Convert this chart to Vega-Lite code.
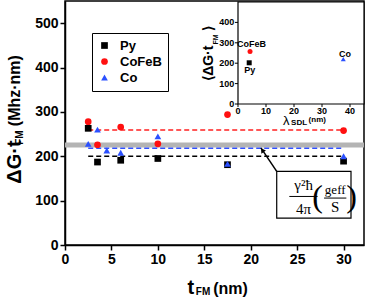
{
  "$schema": "https://vega.github.io/schema/vega-lite/v6.json",
  "width": 299,
  "height": 244,
  "autosize": {"type": "none"},
  "padding": {"left": 65, "top": 1, "right": 2, "bottom": 56},
  "config": {
    "view": {"stroke": "black", "strokeWidth": 1.5},
    "font": "Liberation Sans",
    "axis": {"zindex": 1, "labelFont": "Liberation Sans", "titleFont": "Liberation Sans", "labelFontWeight": "bold", "titleFontWeight": "bold", "domainColor": "black", "tickColor": "black", "labelColor": "black", "titleColor": "black", "grid": false}
  },
  "layer": [
    {
      "layer": [
        {
          "data": {"values": [{"x": 0, "x2": 32.2, "y": 220, "y2": 231}]},
          "mark": {"type": "rect", "fill": "#b4b4b4"},
          "encoding": {
            "x": {"field": "x", "type": "quantitative", "scale": {"domain": [0, 32.2], "nice": false},
              "axis": {"title": null, "values": [0, 2.5, 5, 7.5, 10, 12.5, 15, 17.5, 20, 22.5, 25, 27.5, 30], "labelExpr": "datum.value % 5 === 0 ? datum.label : ''", "labelFontSize": 14, "tickSize": 5, "tickWidth": 1.5, "domainWidth": 1.5, "labelPadding": 2, "labelFlush": false}},
            "x2": {"field": "x2"},
            "y": {"field": "y", "type": "quantitative", "scale": {"domain": [0, 550], "nice": false},
              "axis": {"title": null, "values": [0, 50, 100, 150, 200, 250, 300, 350, 400, 450, 500], "labelExpr": "datum.value % 100 === 0 ? datum.label : ''", "labelFontSize": 14, "tickSize": 5, "tickWidth": 1.5, "domainWidth": 1.5, "labelPadding": 2, "labelFlush": false}},
            "y2": {"field": "y2"}
          }
        },
        {
          "data": {"values": [{"x": 2.5, "x2": 30, "y": 200}]},
          "mark": {"type": "rule", "color": "black", "strokeDash": [5, 3], "strokeWidth": 1.5},
          "encoding": {"x": {"field": "x", "type": "quantitative"}, "x2": {"field": "x2"}, "y": {"field": "y", "type": "quantitative"}}
        },
        {
          "data": {"values": [{"x": 2.5, "x2": 30, "y": 259}]},
          "mark": {"type": "rule", "color": "#ff2020", "strokeDash": [5, 3], "strokeWidth": 1.5},
          "encoding": {"x": {"field": "x", "type": "quantitative"}, "x2": {"field": "x2"}, "y": {"field": "y", "type": "quantitative"}}
        },
        {
          "data": {"values": [{"x": 2.5, "x2": 30, "y": 218}]},
          "mark": {"type": "rule", "color": "#3050ff", "strokeDash": [5, 3], "strokeWidth": 1.5},
          "encoding": {"x": {"field": "x", "type": "quantitative"}, "x2": {"field": "x2"}, "y": {"field": "y", "type": "quantitative"}}
        },
        {
          "data": {"values": [
            {"series": "Py", "x": 2.5, "y": 263},
            {"series": "Py", "x": 3.5, "y": 187},
            {"series": "Py", "x": 6, "y": 191},
            {"series": "Py", "x": 10, "y": 195},
            {"series": "Py", "x": 17.5, "y": 181},
            {"series": "Py", "x": 30, "y": 189},
            {"series": "CoFeB", "x": 2.5, "y": 278},
            {"series": "CoFeB", "x": 3.5, "y": 226},
            {"series": "CoFeB", "x": 6, "y": 266},
            {"series": "CoFeB", "x": 10, "y": 228},
            {"series": "CoFeB", "x": 17.5, "y": 294},
            {"series": "CoFeB", "x": 30, "y": 258},
            {"series": "Co", "x": 2.5, "y": 228},
            {"series": "Co", "x": 3.5, "y": 260},
            {"series": "Co", "x": 4.5, "y": 213},
            {"series": "Co", "x": 6, "y": 208},
            {"series": "Co", "x": 10, "y": 245},
            {"series": "Co", "x": 17.5, "y": 183},
            {"series": "Co", "x": 30, "y": 200}
          ]},
          "mark": {"type": "point", "filled": true, "size": 45, "opacity": 1},
          "encoding": {
            "x": {"field": "x", "type": "quantitative"},
            "y": {"field": "y", "type": "quantitative"},
            "color": {"field": "series", "type": "nominal", "scale": {"domain": ["Py", "CoFeB", "Co"], "range": ["black", "#ff1010", "#2b50ff"]},
              "legend": {"title": null, "orient": "none", "legendX": 27, "legendY": 32, "strokeColor": "black", "fillColor": "white", "padding": 6, "labelFont": "Liberation Sans", "labelFontSize": 13, "labelFontWeight": "bold", "labelColor": "black", "symbolSize": 45, "rowPadding": 2, "labelOffset": 9}},
            "shape": {"field": "series", "type": "nominal", "scale": {"domain": ["Py", "CoFeB", "Co"], "range": ["square", "circle", "triangle-up"]},
              "legend": {"title": null, "orient": "none", "legendX": 27, "legendY": 32, "strokeColor": "black", "fillColor": "white", "padding": 6, "labelFont": "Liberation Sans", "labelFontSize": 13, "labelFontWeight": "bold", "labelColor": "black", "symbolSize": 45, "rowPadding": 2, "labelOffset": 9}}
          }
        },
        {
          "data": {"values": [{"x": 22.8, "x2": 30.8, "y": 60.5, "y2": 166}]},
          "mark": {"type": "rect", "fill": "white", "stroke": "black", "strokeWidth": 1.2},
          "encoding": {"x": {"field": "x", "type": "quantitative"}, "x2": {"field": "x2"}, "y": {"field": "y", "type": "quantitative"}, "y2": {"field": "y2"}}
        },
        {
          "data": {"values": [{"x": 22.8, "y": 166, "x2": 21.1, "y2": 219}]},
          "mark": {"type": "rule", "color": "black", "strokeWidth": 1.5},
          "encoding": {"x": {"field": "x", "type": "quantitative"}, "x2": {"field": "x2"}, "y": {"field": "y", "type": "quantitative"}, "y2": {"field": "y2"}}
        },
        {
          "data": {"values": [{"x": 21.25, "y": 213.8}]},
          "mark": {"type": "point", "shape": "triangle-up", "filled": true, "color": "black", "size": 30, "angle": 325.6, "opacity": 1},
          "encoding": {"x": {"field": "x", "type": "quantitative"}, "y": {"field": "y", "type": "quantitative"}}
        },
        {
          "data": {"values": [{"x": 24.16, "x2": 27.2, "y": 109.4}, {"x": 27.9, "x2": 30.3, "y": 105.8}]},
          "mark": {"type": "rule", "color": "black", "strokeWidth": 1},
          "encoding": {"x": {"field": "x", "type": "quantitative"}, "x2": {"field": "x2"}, "y": {"field": "y", "type": "quantitative"}}
        },
        {
          "data": {"values": [{"x": 25.7, "y": 136, "t": "γ²ħ"}, {"x": 25.7, "y": 82, "t": "4π"}, {"x": 29.1, "y": 85, "t": "S"}]},
          "mark": {"type": "text", "font": "Liberation Serif", "fontSize": 15, "color": "black", "baseline": "middle", "align": "center"},
          "encoding": {"x": {"field": "x", "type": "quantitative"}, "y": {"field": "y", "type": "quantitative"}, "text": {"field": "t"}}
        },
        {
          "data": {"values": [{"x": 29.1, "y": 124, "t": "geff"}]},
          "mark": {"type": "text", "font": "Liberation Serif", "fontSize": 13, "color": "black", "baseline": "middle", "align": "center"},
          "encoding": {"x": {"field": "x", "type": "quantitative"}, "y": {"field": "y", "type": "quantitative"}, "text": {"field": "t"}}
        },
        {
          "data": {"values": [{"x": 27.2, "y": 108, "t": "("}, {"x": 30.85, "y": 108, "t": ")"}]},
          "mark": {"type": "text", "font": "Liberation Serif", "fontSize": 32, "color": "black", "baseline": "middle", "align": "center"},
          "encoding": {"x": {"field": "x", "type": "quantitative"}, "y": {"field": "y", "type": "quantitative"}, "text": {"field": "t"}}
        },
        {
          "data": {"values": [{"x": 13.56, "y": -97, "t": "t"}]},
          "mark": {"type": "text", "font": "Liberation Sans", "fontWeight": "bold", "fontSize": 20, "color": "black", "baseline": "middle", "align": "center"},
          "encoding": {"x": {"field": "x", "type": "quantitative"}, "y": {"field": "y", "type": "quantitative"}, "text": {"field": "t"}}
        },
        {
          "data": {"values": [{"x": 14.86, "y": -106, "t": "FM"}]},
          "mark": {"type": "text", "font": "Liberation Sans", "fontWeight": "bold", "fontSize": 10, "color": "black", "baseline": "middle", "align": "center"},
          "encoding": {"x": {"field": "x", "type": "quantitative"}, "y": {"field": "y", "type": "quantitative"}, "text": {"field": "t"}}
        },
        {
          "data": {"values": [{"x": 17.82, "y": -99, "t": "(nm)"}]},
          "mark": {"type": "text", "font": "Liberation Sans", "fontWeight": "bold", "fontSize": 16, "color": "black", "baseline": "middle", "align": "center"},
          "encoding": {"x": {"field": "x", "type": "quantitative"}, "y": {"field": "y", "type": "quantitative"}, "text": {"field": "t"}}
        },
        {
          "data": {"values": [{"x": -5.43, "y": 187, "t": "ΔG·t"}]},
          "mark": {"type": "text", "font": "Liberation Sans", "fontWeight": "bold", "fontSize": 20, "color": "black", "baseline": "middle", "align": "center", "angle": 270},
          "encoding": {"x": {"field": "x", "type": "quantitative"}, "y": {"field": "y", "type": "quantitative"}, "text": {"field": "t"}}
        },
        {
          "data": {"values": [{"x": -4.83, "y": 242, "t": "FM"}]},
          "mark": {"type": "text", "font": "Liberation Sans", "fontWeight": "bold", "fontSize": 10, "color": "black", "baseline": "middle", "align": "center", "angle": 270},
          "encoding": {"x": {"field": "x", "type": "quantitative"}, "y": {"field": "y", "type": "quantitative"}, "text": {"field": "t"}}
        },
        {
          "data": {"values": [{"x": -5.43, "y": 348, "t": "(Mhz·nm)"}]},
          "mark": {"type": "text", "font": "Liberation Sans", "fontWeight": "bold", "fontSize": 16, "color": "black", "baseline": "middle", "align": "center", "angle": 270},
          "encoding": {"x": {"field": "x", "type": "quantitative"}, "y": {"field": "y", "type": "quantitative"}, "text": {"field": "t"}}
        }
      ]
    },
    {
      "layer": [
        {
          "data": {"values": [{"lam": 0, "lam2": 45, "g": 0, "g2": 500}]},
          "mark": {"type": "rect", "fill": "white", "stroke": "black", "strokeWidth": 1.2},
          "encoding": {
            "x": {"field": "lam", "type": "quantitative", "scale": {"domain": [-12, 45], "range": [139.4, 299], "nice": false, "zero": false}, "axis": null},
            "x2": {"field": "lam2"},
            "y": {"field": "g", "type": "quantitative", "scale": {"domain": [-100, 500], "range": [123.4, 1], "nice": false, "zero": false}, "axis": null},
            "y2": {"field": "g2"}
          }
        },
        {
          "data": {"values": [{"tick": 0}, {"tick": 10}, {"tick": 20}, {"tick": 30}, {"tick": 40}]},
          "layer": [
            {
              "mark": {"type": "rule", "color": "black", "strokeWidth": 1},
              "encoding": {"x": {"field": "tick", "type": "quantitative", "axis": null}, "y": {"datum": -15, "axis": null}, "y2": {"datum": 0}}
            },
            {
              "mark": {"type": "text", "font": "Liberation Sans", "fontWeight": "bold", "fontSize": 9, "color": "black", "baseline": "middle", "align": "center"},
              "encoding": {"x": {"field": "tick", "type": "quantitative", "axis": null}, "y": {"datum": -33, "axis": null}, "text": {"field": "tick", "type": "quantitative"}}
            }
          ]
        },
        {
          "data": {"values": [{"tick": 0}, {"tick": 100}, {"tick": 200}, {"tick": 300}, {"tick": 400}]},
          "layer": [
            {
              "mark": {"type": "rule", "color": "black", "strokeWidth": 1},
              "encoding": {"y": {"field": "tick", "type": "quantitative", "axis": null}, "x": {"datum": -1.1, "axis": null}, "x2": {"datum": 0}}
            },
            {
              "mark": {"type": "text", "font": "Liberation Sans", "fontWeight": "bold", "fontSize": 9, "color": "black", "baseline": "middle", "align": "right"},
              "encoding": {"y": {"field": "tick", "type": "quantitative", "axis": null}, "x": {"datum": -1.3, "axis": null}, "text": {"field": "tick", "type": "quantitative"}}
            }
          ]
        },
        {
          "data": {"values": [
            {"series": "Py", "lam": 4.0, "g": 202},
            {"series": "CoFeB", "lam": 4.3, "g": 257},
            {"series": "Co", "lam": 37.6, "g": 220}
          ]},
          "mark": {"type": "point", "filled": true, "size": 25, "opacity": 1},
          "encoding": {
            "x": {"field": "lam", "type": "quantitative", "axis": null},
            "y": {"field": "g", "type": "quantitative", "axis": null},
            "color": {"field": "series", "type": "nominal"},
            "shape": {"field": "series", "type": "nominal"}
          }
        },
        {
          "data": {"values": [
            {"lam": 4.2, "g": 167, "t": "Py"},
            {"lam": 4.8, "g": 294, "t": "CoFeB"},
            {"lam": 38.2, "g": 246, "t": "Co"}
          ]},
          "mark": {"type": "text", "font": "Liberation Sans", "fontWeight": "bold", "fontSize": 9, "color": "black", "baseline": "middle", "align": "center"},
          "encoding": {"x": {"field": "lam", "type": "quantitative", "axis": null}, "y": {"field": "g", "type": "quantitative", "axis": null}, "text": {"field": "t"}}
        },
        {
          "data": {"values": [{"lam": 17.2, "g": -83, "t": "λ"}]},
          "mark": {"type": "text", "font": "Liberation Sans", "fontSize": 13, "color": "black", "baseline": "middle", "align": "center"},
          "encoding": {"x": {"field": "lam", "type": "quantitative", "axis": null}, "y": {"field": "g", "type": "quantitative", "axis": null}, "text": {"field": "t"}}
        },
        {
          "data": {"values": [{"lam": 21.8, "g": -93, "t": "SDL"}, {"lam": 28.3, "g": -76, "t": "(nm)"}]},
          "mark": {"type": "text", "font": "Liberation Sans", "fontWeight": "bold", "fontSize": 8, "color": "black", "baseline": "middle", "align": "center"},
          "encoding": {"x": {"field": "lam", "type": "quantitative", "axis": null}, "y": {"field": "g", "type": "quantitative", "axis": null}, "text": {"field": "t"}}
        },
        {
          "data": {"values": [{"lam": -10.5, "g": 200, "t": "⟨ΔG·t"}, {"lam": -10.5, "g": 368, "t": "⟩"}]},
          "mark": {"type": "text", "font": "Liberation Sans", "fontWeight": "bold", "fontSize": 14, "color": "black", "baseline": "middle", "align": "center", "angle": 270},
          "encoding": {"x": {"field": "lam", "type": "quantitative", "axis": null}, "y": {"field": "g", "type": "quantitative", "axis": null}, "text": {"field": "t"}}
        },
        {
          "data": {"values": [{"lam": -8.0, "g": 316, "t": "FM"}]},
          "mark": {"type": "text", "font": "Liberation Sans", "fontWeight": "bold", "fontSize": 7, "color": "black", "baseline": "middle", "align": "center", "angle": 270},
          "encoding": {"x": {"field": "lam", "type": "quantitative", "axis": null}, "y": {"field": "g", "type": "quantitative", "axis": null}, "text": {"field": "t"}}
        }
      ]
    }
  ],
  "resolve": {"scale": {"x": "independent", "y": "independent"}, "axis": {"x": "independent", "y": "independent"}}
}
